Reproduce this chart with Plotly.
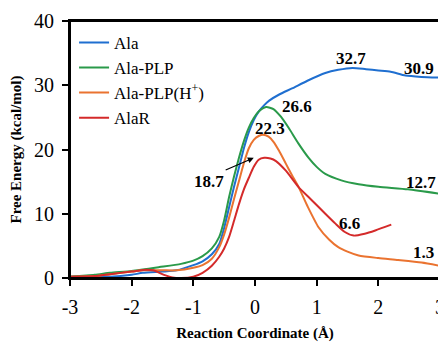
import plotly.graph_objects as go

# Ala (blue)
ala_x = [-3, -2.6, -2.35, -2.0, -1.82, -1.5, -1.27, -1.0, -0.85, -0.7, -0.58, -0.5, -0.42, -0.34, -0.26, -0.18,
         -0.1, -0.02, 0.06, 0.15, 0.23, 0.4, 0.6, 0.85, 1.14, 1.35, 1.58, 1.8, 2.0, 2.2, 2.44, 2.7, 3.0]
ala_y = [0.2, 0.2, 0.2, 0.5, 0.8, 1.0, 1.2, 2.0, 2.6, 3.7, 5.3, 7.8, 11.0, 14.2, 17.2, 20.2,
         22.7, 24.6, 25.9, 26.9, 27.6, 28.6, 29.5, 30.7, 31.9, 32.4, 32.7, 32.5, 32.3, 32.1, 31.5, 31.3, 31.2]

# Ala-PLP (green)
plp_x = [-3, -2.6, -2.35, -2.0, -1.55, -1.2, -1.0, -0.85, -0.7, -0.58, -0.5, -0.42, -0.34, -0.26, -0.18, -0.1,
         -0.02, 0.06, 0.18, 0.3, 0.42, 0.55, 0.7, 0.87, 1.0, 1.14, 1.4, 1.68, 2.0, 2.48, 3.0]
plp_y = [0.2, 0.5, 0.8, 1.1, 1.7, 2.2, 2.7, 3.4, 4.6, 6.4, 9.0, 12.6, 15.8, 18.7, 21.3, 23.4,
         24.9, 25.9, 26.6, 26.3, 25.1, 23.3, 21.0, 18.7, 17.3, 16.2, 15.2, 14.6, 14.2, 13.8, 13.1]

# Ala-PLP(H+) (orange)
plph_x = [-3, -2.6, -2.35, -2.0, -1.82, -1.5, -1.27, -1.0, -0.85, -0.7, -0.58, -0.5, -0.42, -0.34, -0.26, -0.18,
          -0.1, -0.02, 0.06, 0.13, 0.22, 0.3, 0.39, 0.5, 0.6, 0.71, 0.85, 1.03, 1.2, 1.35, 1.5, 1.68, 2.0, 2.32,
          2.7, 3.0]
plph_y = [0.2, 0.3, 0.6, 1.0, 1.2, 1.2, 1.2, 1.6, 2.0, 3.0, 4.8, 6.8, 9.4, 12.3, 15.1, 17.9,
          20.2, 21.5, 22.1, 22.3, 22.0, 21.2, 19.8, 17.8, 16.0, 14.1, 11.2, 7.9, 6.0, 4.8, 4.1, 3.5, 3.1, 2.8,
          2.4, 1.9]

# AlaR (red)
alar_x = [-3, -2.6, -2.35, -2.0, -1.76, -1.65, -1.55, -1.45, -1.34, -1.2, -1.0, -0.85, -0.7, -0.58, -0.5, -0.42,
          -0.34, -0.26, -0.18, -0.1, -0.02, 0.06, 0.15, 0.25, 0.34, 0.5, 0.71, 0.9, 1.14, 1.3, 1.45, 1.6, 1.78,
          1.95, 2.21]
alar_y = [0.2, 0.3, 0.6, 1.0, 1.3, 1.2, 0.8, 0.4, 0.1, 0.0, 0.2, 0.8, 1.9, 3.3, 4.6, 6.4,
          8.9, 11.5, 13.8, 15.6, 17.3, 18.4, 18.7, 18.6, 18.2, 16.7, 14.1, 12.3, 10.0, 8.5, 7.2, 6.6, 6.9,
          7.4, 8.3]

series_names = ["Ala", "Ala-PLP", "Ala-PLP(H<sup>+</sup>)", "AlaR"]
series_colors = ["#1f6fd0", "#2a9a4a", "#ea7330", "#d42a2a"]

# value labels: text, x, y (label anchor positions)
label_texts = ["32.7", "30.9", "26.6", "22.3", "18.7", "12.7", "6.6", "1.3"]
label_x = [1.56, 2.66, 0.68, 0.24, -0.74, 2.69, 1.53, 2.73]
label_y = [34.1, 32.6, 26.7, 23.3, 15.0, 14.8, 8.5, 4.0]

x_ticks = [-3, -2, -1, 0, 1, 2, 3]
x_ticktext = ["-3", "-2", "-1", "0", "1", "2", "3"]
y_ticks = [0, 10, 20, 30, 40]

SERIF = "Liberation Serif, Times New Roman, serif"

fig = go.Figure()
for xs, ys, name, col in zip([ala_x, plp_x, plph_x, alar_x], [ala_y, plp_y, plph_y, alar_y],
                             series_names, series_colors):
    fig.add_trace(go.Scatter(x=xs, y=ys, name=name, mode="lines",
                             line=dict(color=col, width=2, shape="spline", smoothing=0.6)))

for t, lx, ly in zip(label_texts, label_x, label_y):
    fig.add_annotation(x=lx, y=ly, text="<b>%s</b>" % t, showarrow=False,
                       font=dict(family=SERIF, size=17, color="black"))

# arrow pointing to the AlaR barrier
fig.add_annotation(x=-0.02, y=18.7, ax=-0.5, ay=16.7, axref="x", ayref="y", xref="x", yref="y",
                   text="", showarrow=True, arrowhead=2, arrowsize=1, arrowwidth=1.2, arrowcolor="black")

# plot frame
fig.add_shape(type="rect", xref="paper", yref="paper", x0=0, y0=0, x1=1, y1=1,
              line=dict(color="black", width=2), layer="above")

# page body has an 8px margin: figure is shifted by (8, 8)
fig.update_layout(
    width=438, height=335,
    margin=dict(l=62, r=6, t=13, b=65, autoexpand=False),
    paper_bgcolor="white", plot_bgcolor="white",
    font=dict(family=SERIF, size=20, color="black"),
    showlegend=True,
    legend=dict(x=0.011, y=0.985, xanchor="left", yanchor="top", bgcolor="rgba(0,0,0,0)",
                font=dict(family=SERIF, size=17), tracegroupgap=0, itemwidth=30),
)
fig.update_xaxes(range=[-3, 3], tickvals=x_ticks, ticktext=x_ticktext, showgrid=False, zeroline=False,
                 showline=True, linecolor="black", linewidth=2, mirror=True, automargin=False,
                 ticks="outside", ticklen=6, tickwidth=2, tickcolor="black", ticklabelstandoff=4,
                 ticklabeloverflow="allow",
                 tickfont=dict(family=SERIF, size=20),
                 title=dict(text="<b>Reaction Coordinate (Å)</b>", font=dict(family=SERIF, size=15), standoff=10))
fig.update_yaxes(range=[0, 40], tickvals=y_ticks, showgrid=False, zeroline=False,
                 showline=True, linecolor="black", linewidth=2, mirror=True, automargin=False,
                 ticks="outside", ticklen=6, tickwidth=2, tickcolor="black", ticklabelstandoff=4,
                 ticklabeloverflow="allow",
                 tickfont=dict(family=SERIF, size=20),
                 title=dict(text="<b>Free Energy (kcal/mol)</b>", font=dict(family=SERIF, size=15), standoff=10))

fig.write_html("out.html")
